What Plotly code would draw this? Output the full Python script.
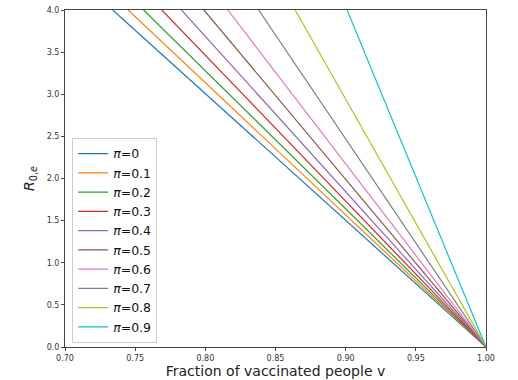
import plotly.graph_objects as go

# protection levels and where each line leaves the top of the plot (R=4)
pi_values = ["0", "0.1", "0.2", "0.3", "0.4", "0.5", "0.6", "0.7", "0.8", "0.9"]
v_at_top = [0.734, 0.745, 0.756, 0.769, 0.783, 0.799, 0.816, 0.838, 0.864, 0.901]
r_top = 4.0
v_end = 1.0
r_end = 0.0

colors = ["#1f77b4", "#ff7f0e", "#2ca02c", "#d62728", "#9467bd",
          "#8c564b", "#e377c2", "#7f7f7f", "#bcbd22", "#17becf"]

fig = go.Figure()
for p, v0, c in zip(pi_values, v_at_top, colors):
    fig.add_trace(go.Scatter(
        x=[v0, v_end], y=[r_top, r_end], mode="lines",
        line=dict(color=c, width=1.2),
        name="<i>π</i>=" + p,
    ))

axis_common = dict(
    showgrid=False, zeroline=False, showline=True, mirror=True,
    linecolor="#444", linewidth=1, ticks="outside", ticklen=3,
    tickcolor="#444", tickfont=dict(size=8, color="#333"),
)
fig.update_xaxes(range=[0.70, 1.00], dtick=0.05, tickformat=".2f",
                 title=dict(text="Fraction of vaccinated people v", font=dict(size=14, color="#222"), standoff=4),
                 **axis_common)
fig.update_yaxes(range=[0, 4], dtick=0.5, tickformat=".1f",
                 title=dict(text="<i>R</i><sub>0,<i>e</i></sub>", font=dict(size=14, color="#222"), standoff=8),
                 **axis_common)

fig.update_layout(
    width=518, height=380,
    margin=dict(l=65, r=32, t=10, b=33, autoexpand=False),
    paper_bgcolor="white", plot_bgcolor="white",
    font=dict(family="DejaVu Sans"),
    legend=dict(x=0.017, y=0.012, xanchor="left", yanchor="bottom",
                bordercolor="#ccc", borderwidth=1, bgcolor="rgba(255,255,255,0.8)",
                font=dict(size=12.5, color="#111"), tracegroupgap=0, itemwidth=30),
    showlegend=True,
)

# drop the page's default body margin so the figure sits at 0,0
fig.write_html("out.html", config={"displayModeBar": False},
               post_script="document.body.style.margin='0';")
